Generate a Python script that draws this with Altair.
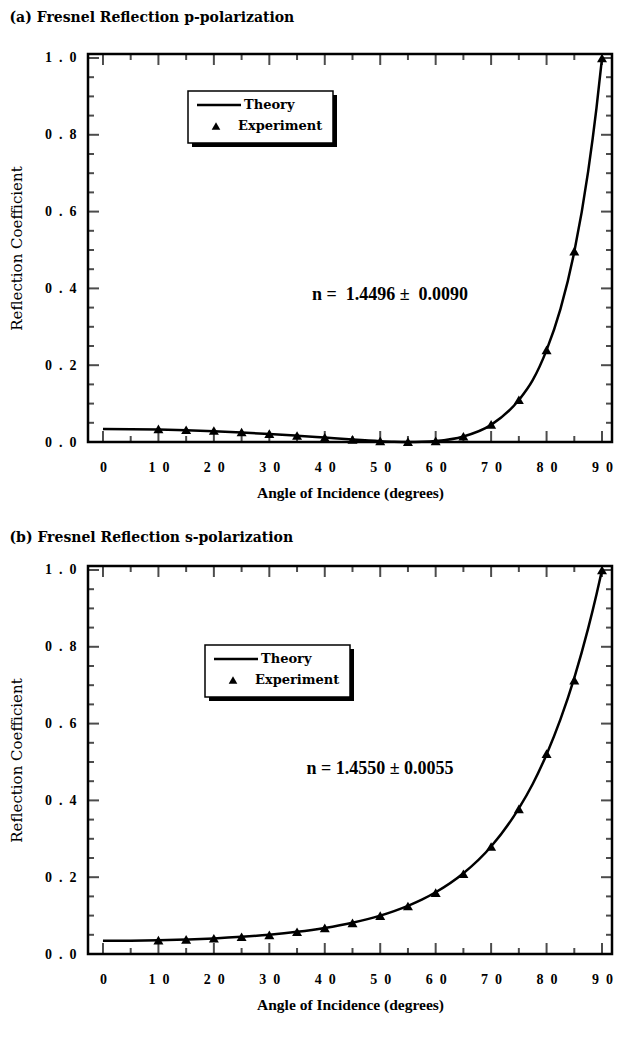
import altair as alt
import pandas as pd

# ---------------- data ----------------
theory_angle = [0, 5, 10, 15, 20, 25, 30, 35, 40, 45, 50, 52.5, 55, 57.5, 60, 65, 70, 75, 77.5, 80, 82.5, 85, 87.5, 89, 90]
theory_p = [0.0337, 0.0333, 0.0323, 0.0305, 0.0280, 0.0248, 0.0209, 0.0163, 0.0114, 0.0064, 0.0022, 0.0007,
            0.0000, 0.0006, 0.0026, 0.0145, 0.0447, 0.1092, 0.1610, 0.2393, 0.3459, 0.4952, 0.7047, 0.8695, 1.0]
theory_s = [0.0344, 0.0347, 0.0358, 0.0378, 0.0406, 0.0447, 0.0502, 0.0577, 0.0678, 0.0814, 0.0999, 0.1118,
            0.1254, 0.1414, 0.1607, 0.2102, 0.2800, 0.3791, 0.4427, 0.5198, 0.6109, 0.7193, 0.8479, 0.9361, 1.0]

exp_angle = [10, 15, 20, 25, 30, 35, 40, 45, 50, 55, 60, 65, 70, 75, 80, 85, 90]
exp_p = [0.034, 0.032, 0.030, 0.026, 0.022, 0.017, 0.012, 0.007, 0.003, 0.001, 0.003, 0.015,
         0.046, 0.110, 0.240, 0.497, 1.0]
exp_s = [0.036, 0.038, 0.041, 0.045, 0.050, 0.058, 0.068, 0.081, 0.100, 0.125, 0.160, 0.209,
         0.280, 0.378, 0.522, 0.713, 1.0]

x_major = [0, 10, 20, 30, 40, 50, 60, 70, 80, 90]
x_minor = [5, 15, 25, 35, 45, 55, 65, 75, 85]
y_major = [0.0, 0.2, 0.4, 0.6, 0.8, 1.0]
y_minor = [0.05, 0.1, 0.15, 0.25, 0.3, 0.35, 0.45, 0.5, 0.55, 0.65, 0.7, 0.75, 0.85, 0.9, 0.95]

W, H = 524, 388
XDOM = [-2.7, 91.8]
YDOM = [0, 1.0104]
SERIF = "DejaVu Serif"
TIMES = "Liberation Serif"

xs = alt.Scale(domain=XDOM, nice=False, zero=False)
ys = alt.Scale(domain=YDOM, nice=False, zero=False)

x_axis = alt.Axis(
    values=x_major, title="Angle of Incidence (degrees)",
    labelExpr="join(split(format(datum.value, 'd'), ''), '\u2002')",
    ticks=False, domain=False, grid=False, labelPadding=18, titlePadding=11,
    titleFont=TIMES, titleFontSize=15.5, titleFontWeight="bold",
)
y_axis = alt.Axis(
    values=y_major, title="Reflection Coefficient",
    labelExpr="join(split(format(datum.value, '.1f'), ''), '\u2002')",
    ticks=False, domain=False, grid=False, labelPadding=12, titlePadding=20,
    titleFont=SERIF, titleFontSize=15, titleFontWeight="normal",
)

one = pd.DataFrame({"k": [0]})


def tick_layers():
    layers = []
    for vals, ln in ((x_major, 11), (x_minor, 6)):
        d = pd.DataFrame({"v": vals})
        for ypos in (H - ln / 2, ln / 2):
            layers.append(alt.Chart(d).mark_tick(orient="vertical", color="black", thickness=2, size=ln)
                          .encode(x=alt.X("v:Q", scale=xs, axis=x_axis), y=alt.value(ypos)))
    for vals, ln in ((y_major, 11), (y_minor, 6)):
        d = pd.DataFrame({"v": vals})
        for xpos in (ln / 2, W - ln / 2):
            layers.append(alt.Chart(d).mark_tick(orient="horizontal", color="black", thickness=2, size=ln)
                          .encode(y=alt.Y("v:Q", scale=ys, axis=y_axis), x=alt.value(xpos)))
    return layers


def legend_layers(L, T, Wb=145, Hb=52):
    txt = dict(align="left", baseline="middle", font=SERIF, fontWeight="bold", fontSize=13)
    return [
        alt.Chart(one).mark_rect(color="black").encode(
            x=alt.value(L + 4), x2=alt.value(L + Wb + 4), y=alt.value(T + 4), y2=alt.value(T + Hb + 4)),
        alt.Chart(one).mark_rect(fill="white", stroke="black", strokeWidth=1.5).encode(
            x=alt.value(L), x2=alt.value(L + Wb), y=alt.value(T), y2=alt.value(T + Hb)),
        alt.Chart(one).mark_rule(color="black", strokeWidth=2.5).encode(
            x=alt.value(L + 9), x2=alt.value(L + 53), y=alt.value(T + 14)),
        alt.Chart(one).mark_point(shape="triangle-up", filled=True, color="black", opacity=1, size=75).encode(
            x=alt.value(L + 28), y=alt.value(T + 35)),
        alt.Chart(one).mark_text(**txt).encode(
            x=alt.value(L + 56), y=alt.value(T + 14), text=alt.value("Theory")),
        alt.Chart(one).mark_text(**txt).encode(
            x=alt.value(L + 50), y=alt.value(T + 35), text=alt.value("Experiment")),
    ]


def panel(title, theory_vals, exp_vals, label, leg_pos, ann_pos, title_offset):
    th = pd.DataFrame({"angle": theory_angle, "R": theory_vals})
    ex = pd.DataFrame({"angle": exp_angle, "R": exp_vals})
    line = alt.Chart(th).mark_line(color="black", strokeWidth=2.5, interpolate="monotone").encode(
        x=alt.X("angle:Q", scale=xs, axis=x_axis), y=alt.Y("R:Q", scale=ys, axis=y_axis))
    pts = alt.Chart(ex).mark_point(shape="triangle-up", filled=True, color="black", opacity=1, size=100).encode(
        x=alt.X("angle:Q", scale=xs, axis=x_axis), y=alt.Y("R:Q", scale=ys, axis=y_axis))
    ann = alt.Chart(one).mark_text(align="center", baseline="middle", font=TIMES, fontWeight="bold", fontSize=18).encode(
        x=alt.value(ann_pos[0]), y=alt.value(ann_pos[1]), text=alt.value(label))
    layers = tick_layers() + [line, pts] + legend_layers(*leg_pos) + [ann]
    return alt.layer(*layers).properties(
        width=W, height=H,
        title=alt.TitleParams(title, anchor="start", font=SERIF, fontSize=14, fontWeight="bold",
                              offset=title_offset, dx=0),
    )


pa = panel("(a) Fresnel Reflection p-polarization", theory_p, exp_p,
           "n =\u00a0\u00a01.4496 \u00b1\u00a0\u00a00.0090", (100, 37), (302, 241), 26)
pb = panel("(b) Fresnel Reflection s-polarization", theory_s, exp_s,
           "n = 1.4550 \u00b1 0.0055", (117, 79), (292, 203), 18)

chart = alt.vconcat(pa, pb, spacing=27).properties(
    padding={"left": 0, "top": 1, "right": 0, "bottom": 5}
).configure(background="white").configure_view(
    stroke="black", strokeWidth=2.5
).configure_axis(
    labelFont=TIMES, labelFontWeight="bold", labelFontSize=14, labelColor="black",
    titleColor="black",
)

chart.save("out.html", embed_options={"renderer": "svg", "actions": False})
